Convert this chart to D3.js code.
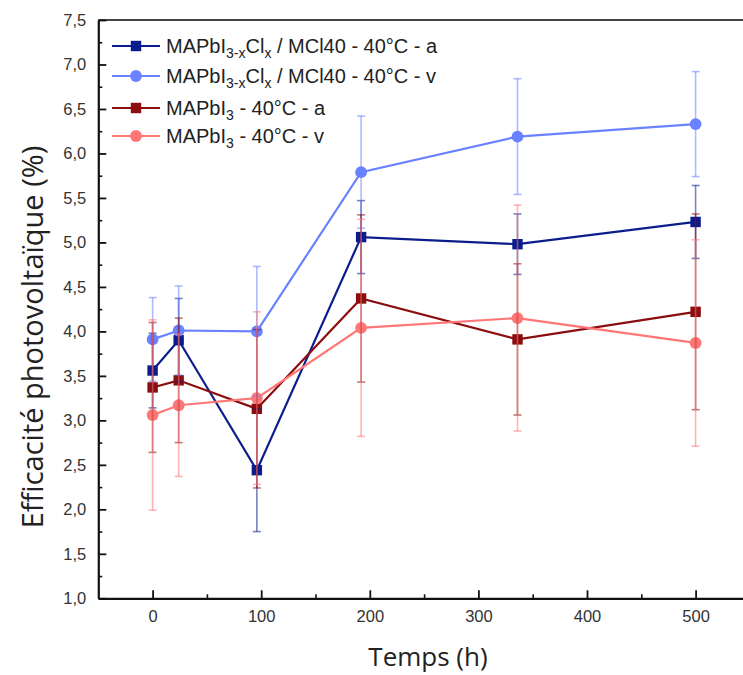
<!DOCTYPE html>
<html>
<head>
<meta charset="utf-8">
<script src="https://cdn.jsdelivr.net/npm/d3@7"></script>
<style>
  html, body { margin: 0; padding: 0; background: #fff; }
  svg { display: block; }
</style>
</head>
<body>
<svg id="chart" width="743" height="675"></svg>
<script>
// ---- data ----
const times = [0, 24, 96, 192, 336, 500];
const s1Values = [3.56, 3.90, 2.44, 5.06, 4.98, 5.23];
const s1Errors = [0.42, 0.47, 0.69, 0.41, 0.34, 0.41];
const s2Values = [3.91, 4.01, 4.00, 5.79, 6.19, 6.33];
const s2Errors = [0.47, 0.50, 0.73, 0.63, 0.65, 0.59];
const s3Values = [3.37, 3.45, 3.13, 4.37, 3.91, 4.22];
const s3Errors = [0.73, 0.70, 0.89, 0.94, 0.85, 1.10];
const s4Values = [3.06, 3.17, 3.25, 4.04, 4.15, 3.87];
const s4Errors = [1.07, 0.80, 0.97, 1.22, 1.27, 1.16];
const xTicks = [0, 100, 200, 300, 400, 500];
const xMinorTicks = [50, 150, 250, 350, 450];
const yTicks = [1.0, 1.5, 2.0, 2.5, 3.0, 3.5, 4.0, 4.5, 5.0, 5.5, 6.0, 6.5, 7.0, 7.5];
const yMinorTicks = [1.25, 1.75, 2.25, 2.75, 3.25, 3.75, 4.25, 4.75, 5.25, 5.75, 6.25, 6.75, 7.25];
const xTitle = "Temps (h)";
const yTitle = "Efficacité photovoltaïque (%)";
const legendLabels = [
  [["MAPbI", 0], ["3-x", 1], ["Cl", 0], ["x", 1], [" / MCl40 - 40°C - a", 0]],
  [["MAPbI", 0], ["3-x", 1], ["Cl", 0], ["x", 1], [" / MCl40 - 40°C - v", 0]],
  [["MAPbI", 0], ["3", 1], [" - 40°C - a", 0]],
  [["MAPbI", 0], ["3", 1], [" - 40°C - v", 0]]
];

// ---- style ----
const series = [
  { values: s1Values, errors: s1Errors, color: "#0b1d8c", shape: "square", label: legendLabels[0] },
  { values: s2Values, errors: s2Errors, color: "#6a82ff", shape: "circle", label: legendLabels[1] },
  { values: s3Values, errors: s3Errors, color: "#8c0d0d", shape: "square", label: legendLabels[2] },
  { values: s4Values, errors: s4Errors, color: "#ff7676", shape: "circle", label: legendLabels[3] }
];

const svg = d3.select("#chart");
const x = d3.scaleLinear().domain([-50, 550]).range([98.3, 749.9]);
const y = d3.scaleLinear().domain([1, 7.5]).range([598.3, 20]);
const fmt = v => d3.format(".1f")(v).replace(".", ",");
const tickFont = "'Liberation Sans', Arial, sans-serif";

// frame top
svg.append("line").attr("x1", x(-50)).attr("x2", x(550)).attr("y1", y(7.5)).attr("y2", y(7.5))
  .attr("stroke", "#444").attr("stroke-width", 2);

// minor ticks
svg.append("g").attr("transform", `translate(0,${y(1)})`)
  .call(d3.axisBottom(x).tickValues(xMinorTicks).tickSize(-4).tickFormat(""))
  .call(g => g.select(".domain").remove())
  .call(g => g.selectAll("line").attr("stroke", "#111").attr("stroke-width", 1.6));
svg.append("g").attr("transform", `translate(${x(-50)},0)`)
  .call(d3.axisLeft(y).tickValues(yMinorTicks).tickSize(-4).tickFormat(""))
  .call(g => g.select(".domain").remove())
  .call(g => g.selectAll("line").attr("stroke", "#111").attr("stroke-width", 1.6));

// major axes
const xAxis = svg.append("g").attr("transform", `translate(0,${y(1)})`)
  .call(d3.axisBottom(x).tickValues(xTicks).tickSize(-8).tickPadding(12).tickSizeOuter(0));
const yAxis = svg.append("g").attr("transform", `translate(${x(-50)},0)`)
  .call(d3.axisLeft(y).tickValues(yTicks).tickSize(-8).tickPadding(12).tickSizeOuter(0).tickFormat(fmt));
[xAxis, yAxis].forEach(g => {
  g.select(".domain").attr("stroke", "#111").attr("stroke-width", 2.2);
  g.selectAll(".tick line").attr("stroke", "#111").attr("stroke-width", 1.8);
  g.selectAll("text").attr("font-family", tickFont).attr("font-size", 16.5).attr("fill", "#333");
});

// titles
svg.append("text").attr("x", 428).attr("y", 666).attr("text-anchor", "middle")
  .attr("font-family", "'Open Sans', sans-serif").attr("font-size", 26).attr("fill", "#222")
  .text(xTitle);
svg.append("text").attr("transform", "translate(43,337) rotate(-90)").attr("text-anchor", "middle")
  .attr("font-family", "'Open Sans', sans-serif").attr("font-size", 29).attr("fill", "#222")
  .text(yTitle);

const plot = svg.append("g");
const line = d3.line().x(d => x(d.t)).y(d => y(d.v));

function drawMarker(g, shape, cx, cy, color) {
  if (shape === "square") {
    g.append("rect").attr("x", cx - 5.2).attr("y", cy - 5.2).attr("width", 10.4).attr("height", 10.4)
      .attr("fill", color);
  } else {
    g.append("circle").attr("cx", cx).attr("cy", cy).attr("r", 5.9).attr("fill", color);
  }
}

const pts = series.map(s => times.map((t, i) => ({ t, v: s.values[i], e: s.errors[i] })));

// lines
series.forEach((s, k) => {
  plot.append("path").datum(pts[k]).attr("d", line).attr("fill", "none")
    .attr("stroke", s.color).attr("stroke-width", 2.2);
});
// markers
series.forEach((s, k) => {
  pts[k].forEach(d => drawMarker(plot, s.shape, x(d.t), y(d.v), s.color));
});
// error bars
series.forEach((s, k) => {
  const g = plot.append("g").attr("stroke", s.color).attr("stroke-opacity", 0.55).attr("stroke-width", 1.6);
  pts[k].forEach(d => {
    const cx = x(d.t);
    g.append("line").attr("x1", cx).attr("x2", cx).attr("y1", y(d.v + d.e)).attr("y2", y(d.v - d.e));
    g.append("line").attr("x1", cx - 4).attr("x2", cx + 4).attr("y1", y(d.v + d.e)).attr("y2", y(d.v + d.e));
    g.append("line").attr("x1", cx - 4).attr("x2", cx + 4).attr("y1", y(d.v - d.e)).attr("y2", y(d.v - d.e));
  });
});

// legend
const legendRows = [46, 76, 108, 136];
series.forEach((s, k) => {
  const ly = legendRows[k];
  const g = svg.append("g");
  g.append("line").attr("x1", 112).attr("x2", 160).attr("y1", ly).attr("y2", ly)
    .attr("stroke", s.color).attr("stroke-width", 2.2);
  drawMarker(g, s.shape, 136, ly, s.color);
  const txt = g.append("text").attr("x", 166).attr("y", ly + 7)
    .attr("font-family", tickFont).attr("font-size", 20).attr("fill", "#222");
  let sub = 0;
  s.label.forEach(([str, isSub]) => {
    const dy = isSub && !sub ? 5 : (!isSub && sub ? -5 : 0);
    txt.append("tspan").attr("dy", dy).attr("font-size", isSub ? 14 : 20).text(str);
    sub = isSub;
  });
});
</script>
</body>
</html>
